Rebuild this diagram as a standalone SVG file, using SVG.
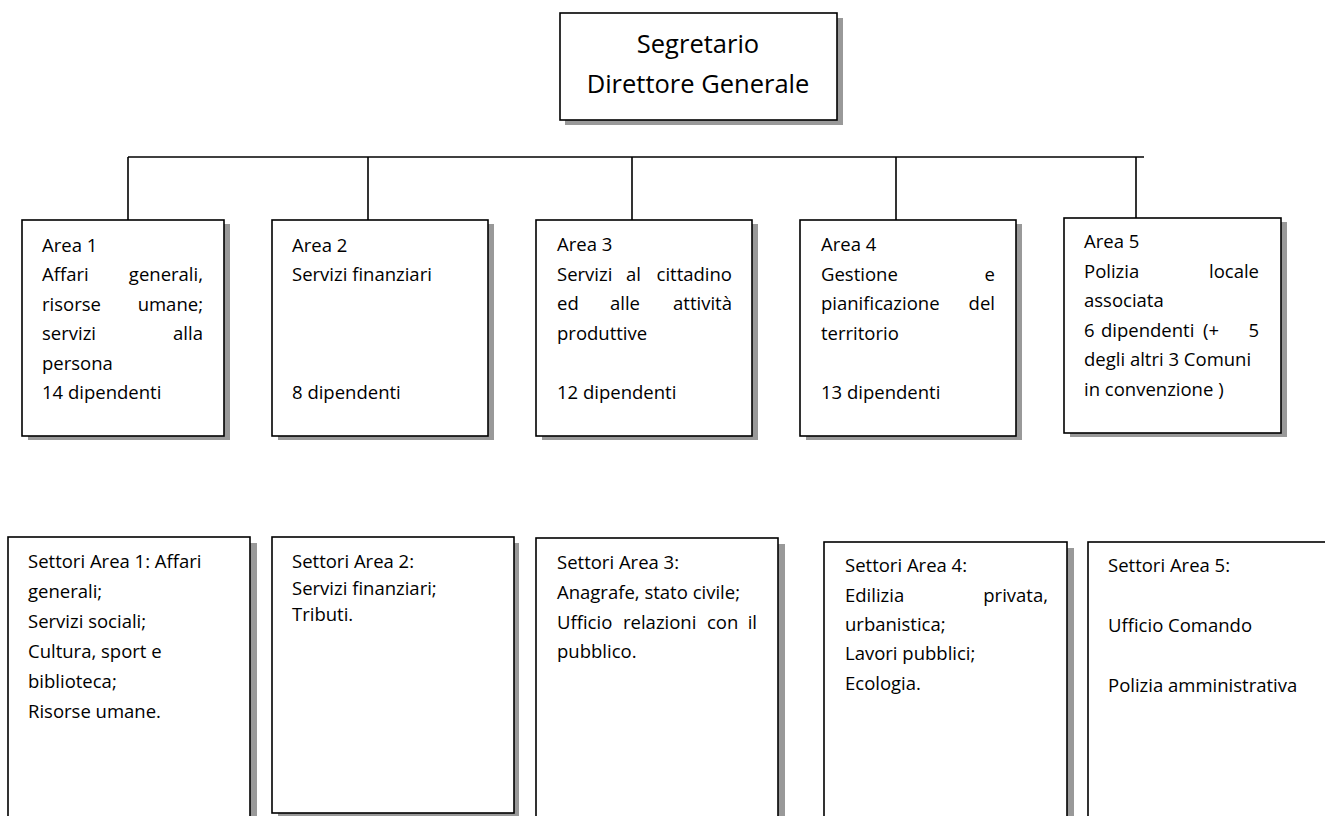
<svg xmlns="http://www.w3.org/2000/svg" width="1325" height="816" viewBox="0 0 1325 816">
<style>
.bg{fill:#ffffff}
.sh{fill:#999999;stroke:none}
.box{fill:#ffffff;stroke:#000000;stroke-width:1.6}
.conn{stroke:#000000;stroke-width:1.6;fill:none}
text{font-family:"Open Sans","Noto Sans","Liberation Sans",sans-serif;fill:#000000;font-size:18.5px}
.title{font-size:25.5px;text-anchor:middle}
.e{text-anchor:end}
</style>
<rect class="bg" x="0" y="0" width="1325" height="816"/>

<g id="connectors">
<line class="conn" x1="128" y1="157" x2="1144" y2="157"/>
<line class="conn" x1="128" y1="157" x2="128" y2="223"/>
<line class="conn" x1="368" y1="157" x2="368" y2="223"/>
<line class="conn" x1="632" y1="157" x2="632" y2="223"/>
<line class="conn" x1="896" y1="157" x2="896" y2="223"/>
<line class="conn" x1="1136" y1="157" x2="1136" y2="222"/>
</g>

<g id="segretario">
<rect class="sh" x="565" y="18" width="278" height="107"/>
<rect class="box" x="560" y="13" width="277" height="107"/>
<text class="title" x="698" y="53">Segretario</text>
<text class="title" x="698" y="93">Direttore Generale</text>
</g>

<g id="area1">
<rect class="sh" x="28" y="224" width="202" height="216"/>
<rect class="box" x="22" y="220" width="202" height="216"/>
<text x="42" y="252">Area 1</text>
<text x="42" y="281">Affari</text><text class="e" x="203" y="281">generali,</text>
<text x="42" y="311">risorse</text><text class="e" x="203" y="311">umane;</text>
<text x="42" y="340">servizi</text><text class="e" x="203" y="340">alla</text>
<text x="42" y="370">persona</text>
<text x="42" y="399">14 dipendenti</text>
</g>

<g id="area2">
<rect class="sh" x="278" y="224" width="216" height="216"/>
<rect class="box" x="272" y="220" width="216" height="216"/>
<text x="292" y="252">Area 2</text>
<text x="292" y="281">Servizi finanziari</text>
<text x="292" y="399">8 dipendenti</text>
</g>

<g id="area3">
<rect class="sh" x="542" y="224" width="216" height="216"/>
<rect class="box" x="536" y="220" width="216" height="216"/>
<text x="557" y="251">Area 3</text>
<text x="557" y="281">Servizi</text><text x="626" y="281">al</text><text class="e" x="732" y="281">cittadino</text>
<text x="557" y="310">ed</text><text x="610" y="310">alle</text><text class="e" x="732" y="310">attività</text>
<text x="557" y="340">produttive</text>
<text x="557" y="399">12 dipendenti</text>
</g>

<g id="area4">
<rect class="sh" x="806" y="224" width="216" height="216"/>
<rect class="box" x="800" y="220" width="216" height="216"/>
<text x="821" y="251">Area 4</text>
<text x="821" y="281">Gestione</text><text class="e" x="995" y="281">e</text>
<text x="821" y="310">pianificazione</text><text class="e" x="995" y="310">del</text>
<text x="821" y="340">territorio</text>
<text x="821" y="399">13 dipendenti</text>
</g>

<g id="area5">
<rect class="sh" x="1070" y="222" width="217" height="215"/>
<rect class="box" x="1064" y="218" width="217" height="215"/>
<text x="1084" y="248">Area 5</text>
<text x="1084" y="278">Polizia</text><text class="e" x="1259" y="278">locale</text>
<text x="1084" y="307">associata</text>
<text x="1084" y="337">6</text><text x="1101" y="337">dipendenti</text><text x="1203" y="337">(+</text><text class="e" x="1259" y="337">5</text>
<text x="1084" y="366">degli altri 3 Comuni</text>
<text x="1084" y="396">in convenzione )</text>
</g>

<g id="settori1">
<rect class="sh" x="250" y="543" width="7" height="290"/>
<rect class="box" x="8" y="537" width="242" height="300"/>
<text x="28" y="568">Settori Area 1: Affari</text>
<text x="28" y="598">generali;</text>
<text x="28" y="628">Servizi sociali;</text>
<text x="28" y="658">Cultura, sport e</text>
<text x="28" y="688">biblioteca;</text>
<text x="28" y="718">Risorse umane.</text>
</g>

<g id="settori2">
<rect class="sh" x="278" y="543" width="241" height="275"/>
<rect class="box" x="272" y="537" width="242" height="276"/>
<text x="292" y="568">Settori Area 2:</text>
<text x="292" y="595">Servizi finanziari;</text>
<text x="292" y="621">Tributi.</text>
</g>

<g id="settori3">
<rect class="sh" x="778" y="544" width="7" height="290"/>
<rect class="box" x="536" y="538" width="242" height="300"/>
<text x="557" y="569">Settori Area 3:</text>
<text x="557" y="599">Anagrafe, stato civile;</text>
<text x="557" y="629">Ufficio</text><text x="623" y="629">relazioni</text><text x="707" y="629">con</text><text class="e" x="757" y="629">il</text>
<text x="557" y="658">pubblico.</text>
</g>

<g id="settori4">
<rect class="sh" x="1067" y="548" width="7" height="290"/>
<rect class="box" x="824" y="542" width="243" height="300"/>
<text x="845" y="572">Settori Area 4:</text>
<text x="845" y="602">Edilizia</text><text class="e" x="1048" y="602">privata,</text>
<text x="845" y="631">urbanistica;</text>
<text x="845" y="660">Lavori pubblici;</text>
<text x="845" y="690">Ecologia.</text>
</g>

<g id="settori5">
<rect class="box" x="1088" y="542" width="250" height="300"/>
<text x="1108" y="572">Settori Area  5:</text>
<text x="1108" y="632">Ufficio Comando</text>
<text x="1108" y="692">Polizia amministrativa</text>
</g>
</svg>
